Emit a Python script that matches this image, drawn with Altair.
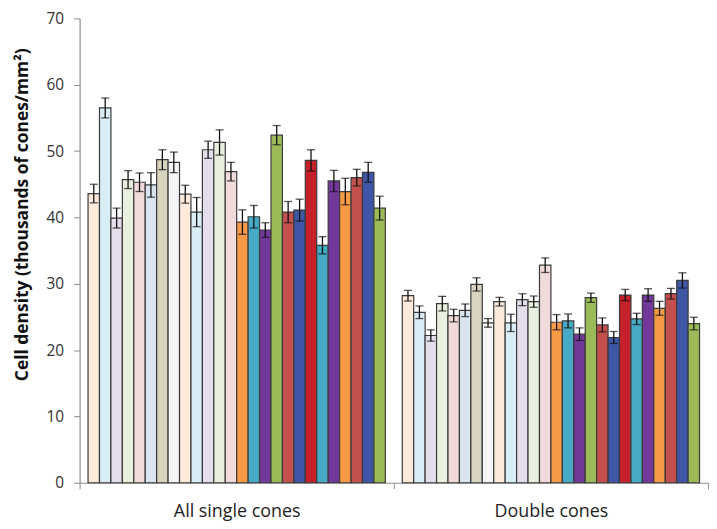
import altair as alt
import pandas as pd

groups = ["All single cones", "Double cones"]
bar_ids = [f"b{i:02d}" for i in range(1, 27)]

colors = [
    "#FDEADA", "#D9EDF7", "#E4DEEC", "#EAF0DE", "#F1DADA", "#D9E4F0", "#D8D4BF",
    "#F5F5F7", "#FDEADA", "#D9EDF7", "#E4DEEC", "#EAF0DE", "#F1DADA",
    "#F79A45", "#46AAC4", "#71389A", "#9BBB59", "#C4504E", "#3F56A6", "#C6202A",
    "#46AAC4", "#71389A", "#F79A45", "#C4504E", "#3F56A6", "#9BBB59",
]

single_vals = [43.6, 56.5, 39.9, 45.7, 45.3, 44.9, 48.7, 48.3, 43.5, 40.8, 50.2, 51.3, 46.9,
               39.3, 40.1, 38.1, 52.4, 40.8, 41.1, 48.6, 35.8, 45.5, 43.9, 46.0, 46.8, 41.4]
single_err = [1.4, 1.5, 1.5, 1.35, 1.4, 1.85, 1.5, 1.55, 1.35, 2.2, 1.3, 1.9, 1.4,
              1.85, 1.7, 1.1, 1.45, 1.6, 1.65, 1.6, 1.3, 1.6, 2.0, 1.25, 1.5, 1.8]
double_vals = [28.2, 25.7, 22.2, 27.0, 25.2, 26.0, 29.9, 24.1, 27.3, 24.1, 27.6, 27.3, 32.8,
               24.2, 24.4, 22.4, 27.9, 23.8, 21.9, 28.3, 24.7, 28.3, 26.3, 28.5, 30.5, 24.0]
double_err = [0.8, 0.95, 0.85, 1.1, 0.95, 0.95, 1.0, 0.65, 0.65, 1.3, 0.9, 0.85, 1.1,
              1.15, 1.05, 0.95, 0.7, 1.05, 0.9, 0.85, 0.85, 0.95, 1.05, 0.8, 1.15, 0.95]

rows = []
for g, vals, errs in [(groups[0], single_vals, single_err), (groups[1], double_vals, double_err)]:
    for b, v, e in zip(bar_ids, vals, errs):
        rows.append({"group": g, "bar": b, "value": v, "lo": v - e, "hi": v + e})
df = pd.DataFrame(rows)

FONT = "Open Sans"
AXIS_GRAY = "#8c8c8c"

x_enc = alt.X(
    "group:N", sort=groups, title=None,
    scale=alt.Scale(paddingInner=0, paddingOuter=0),
    axis=alt.Axis(labelAngle=0, labelFontSize=18, labelFont=FONT, labelColor="#222222",
                  labelPadding=14, tickBand="extent", tickSize=6, tickColor=AXIS_GRAY,
                  domainColor=AXIS_GRAY, domainWidth=1.2),
)
xoff_enc = alt.XOffset("bar:N", sort=bar_ids,
                       scale=alt.Scale(paddingInner=0, paddingOuter=0.74))

base = alt.Chart(df)

bars = base.mark_bar(stroke="#3a3a3a", strokeWidth=1.2).encode(
    x=x_enc,
    xOffset=xoff_enc,
    y=alt.Y("value:Q", scale=alt.Scale(domain=[0, 70]),
            title="Cell density (thousands of cones/mm²)",
            axis=alt.Axis(values=list(range(0, 71, 10)), grid=False, labelFontSize=15.5,
                          labelFont=FONT, labelColor="#333333", labelPadding=10,
                          tickSize=6, tickColor=AXIS_GRAY, domainColor=AXIS_GRAY,
                          domainWidth=1.2, titleFont=FONT, titleFontSize=17.5,
                          titleFontWeight="bold", titleColor="#111111",
                          titleX=-57, titleY=197, titleAngle=270,
                          titleBaseline="middle", titleAlign="center")),
    color=alt.Color("bar:N", scale=alt.Scale(domain=bar_ids, range=colors), legend=None),
)

rules = base.mark_rule(color="#111111", strokeWidth=1.3).encode(
    x=alt.X("group:N", sort=groups),
    xOffset=alt.XOffset("bar:N", sort=bar_ids),
    y="lo:Q",
    y2="hi:Q",
)

caps_lo = base.mark_tick(color="#111111", thickness=1.3, size=8, orient="horizontal").encode(
    x=alt.X("group:N", sort=groups),
    xOffset=alt.XOffset("bar:N", sort=bar_ids),
    y="lo:Q",
)
caps_hi = base.mark_tick(color="#111111", thickness=1.3, size=8, orient="horizontal").encode(
    x=alt.X("group:N", sort=groups),
    xOffset=alt.XOffset("bar:N", sort=bar_ids),
    y="hi:Q",
)

chart = alt.layer(bars, rules, caps_lo, caps_hi).properties(
    width=632, height=467,
    autosize=alt.AutoSizeParams(type="none"),
    padding={"left": 72, "top": 9, "right": 1, "bottom": 40},
).configure_view(stroke=None)

chart.save("out.html", embed_options={"renderer": "svg", "actions": False})
